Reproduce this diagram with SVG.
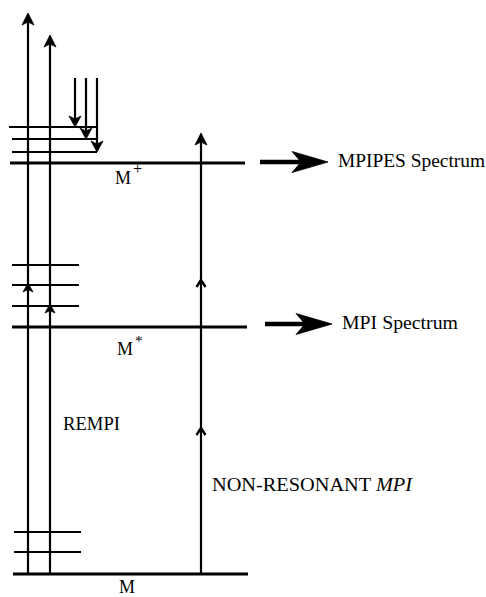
<svg xmlns="http://www.w3.org/2000/svg" xmlns:xlink="http://www.w3.org/1999/xlink" width="486" height="597" viewBox="0 0 486 597">
<style>
.lvl{stroke:#000;stroke-width:2;fill:none;stroke-linecap:butt}
.main{stroke:#000;stroke-width:3;fill:none}
.vert{stroke:#000;stroke-width:2.2;fill:none}
.shaft{stroke:#000;stroke-width:4.5;fill:none}
.fill{fill:#000;stroke:#000;stroke-width:0.8;stroke-linejoin:miter}
.chev{fill:none;stroke:#000;stroke-width:2.4;stroke-linejoin:miter}
text{font-family:"Liberation Serif","Times New Roman",serif;font-size:18px;fill:#000}
</style>
<defs>
<path id="headUp" d="M0,0 L6,12 L0,9 L-6,12 Z"/>
<path id="smallUp" d="M0,0 L5,9 L0,6.5 L-5,9 Z"/>
<path id="chevUp" d="M-4.5,7 L0,0 L4.5,7"/>
<path id="headDown" d="M0,0 L-6,-11 L0,-8 L6,-11 Z"/>
<path id="bigHead" d="M0,0 L-36,-10.5 L-27,0 L-36,10.5 Z"/>
</defs>
<rect width="486" height="597" fill="#fff"/>

<g id="level-Mplus">
<line class="main" x1="10" y1="163" x2="245" y2="163"/>
<text x="115" y="184">M<tspan dx="2" dy="-10" font-size="16">+</tspan></text>
</g>
<g id="level-Mstar">
<line class="main" x1="12" y1="327" x2="247" y2="327"/>
<text x="117" y="355">M<tspan dx="2" dy="-9" font-size="15">*</tspan></text>
</g>
<g id="level-M">
<line class="main" x1="13" y1="574" x2="248" y2="574"/>
<text x="119" y="593">M</text>
</g>
<g id="ion-vibrational-levels">
<line class="lvl" x1="9" y1="127" x2="97" y2="127"/>
<line class="lvl" x1="12" y1="139" x2="97" y2="139"/>
<line class="lvl" x1="12" y1="152" x2="97" y2="152"/>
</g>
<g id="intermediate-levels">
<line class="lvl" x1="12" y1="265" x2="79" y2="265"/>
<line class="lvl" x1="12" y1="285" x2="79" y2="285"/>
<line class="lvl" x1="12" y1="306" x2="79" y2="306"/>
</g>
<g id="ground-levels">
<line class="lvl" x1="14" y1="532" x2="81" y2="532"/>
<line class="lvl" x1="14" y1="552" x2="81" y2="552"/>
</g>
<g id="spectra">
<text x="338" y="167" textLength="147" lengthAdjust="spacingAndGlyphs">MPIPES Spectrum</text>
<text x="342" y="329" textLength="116" lengthAdjust="spacingAndGlyphs">MPI Spectrum</text>
</g>
<g id="process-labels">
<text x="63" y="430" textLength="57" lengthAdjust="spacingAndGlyphs">REMPI</text>
<text x="212" y="491" textLength="200" lengthAdjust="spacingAndGlyphs">NON-RESONANT <tspan font-style="italic">MPI</tspan></text>
</g>

<g id="connectors">
<line class="vert" x1="28" y1="574" x2="28" y2="20"/>
<use xlink:href="#headUp" class="fill" x="28" y="13"/>
<use xlink:href="#smallUp" class="fill" x="28" y="283"/>
<line class="vert" x1="50" y1="574" x2="50" y2="42"/>
<use xlink:href="#headUp" class="fill" x="50" y="35"/>
<use xlink:href="#smallUp" class="fill" x="50" y="304"/>
<line class="vert" x1="201" y1="574" x2="201" y2="140"/>
<use xlink:href="#headUp" class="fill" x="201" y="133"/>
<use xlink:href="#chevUp" class="chev" x="201" y="280"/>
<use xlink:href="#chevUp" class="chev" x="201" y="428"/>
<line class="vert" x1="75" y1="78" x2="75" y2="120"/>
<use xlink:href="#headDown" class="fill" x="75" y="127"/>
<line class="vert" x1="86" y1="78" x2="86" y2="132"/>
<use xlink:href="#headDown" class="fill" x="86" y="139"/>
<line class="vert" x1="97" y1="78" x2="97" y2="145"/>
<use xlink:href="#headDown" class="fill" x="97" y="152"/>
<line class="shaft" x1="260" y1="162" x2="302" y2="162"/>
<use xlink:href="#bigHead" class="fill" x="328" y="162"/>
<line class="shaft" x1="265" y1="324" x2="306" y2="324"/>
<use xlink:href="#bigHead" class="fill" x="332" y="324"/>
</g>
</svg>
